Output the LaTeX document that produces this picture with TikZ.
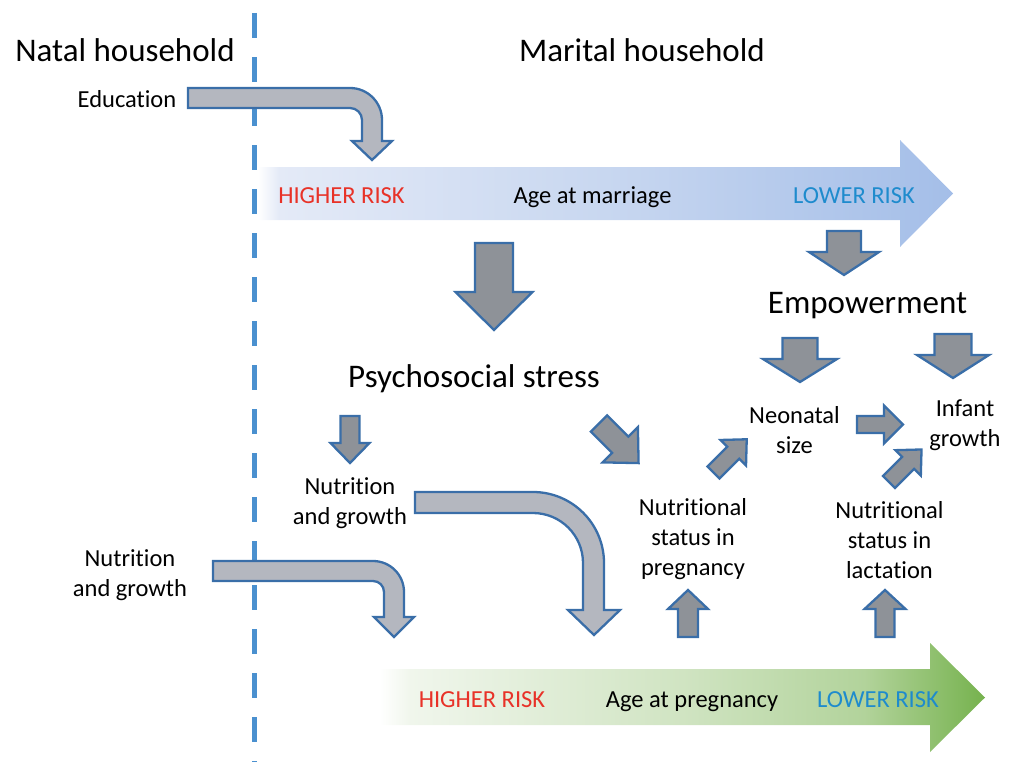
\documentclass[tikz,border=0pt]{standalone}
\usepackage{fontspec}
\setmainfont{Carlito}[Ligatures=NoCommon]
\definecolor{dashblue}{RGB}{74,144,207}
\definecolor{darkfill}{RGB}{142,146,152}
\definecolor{lightfill}{RGB}{180,183,191}
\definecolor{edgeblue}{RGB}{58,110,168}
\definecolor{riskred}{RGB}{232,50,40}
\definecolor{riskblue}{RGB}{30,139,205}
\definecolor{bA}{RGB}{228,234,247}
\definecolor{bM}{RGB}{200,215,240}
\definecolor{bR}{RGB}{164,190,232}
\definecolor{gA}{RGB}{240,246,236}
\definecolor{gM}{RGB}{208,228,194}
\definecolor{gN}{RGB}{178,211,155}
\definecolor{gR}{RGB}{118,178,78}
\pgfdeclarehorizontalshading{blueshade}{100bp}{color(0bp)=(white); color(25bp)=(white); color(26.5bp)=(bA); color(50bp)=(bM); color(75bp)=(bR); color(100bp)=(bR)}
\pgfdeclarehorizontalshading{greenshade}{100bp}{color(0bp)=(white); color(25bp)=(white); color(27.5bp)=(gA); color(50bp)=(gM); color(65bp)=(gN); color(75bp)=(gR); color(100bp)=(gR)}
\newcommand{\blockarr}[8]{%
  \begin{scope}[shift={(#1,#2)},rotate=#3]
    \draw[#8] (0,-#5) -- ({#4-#7},-#5) -- ({#4-#7},-#6) -- (#4,0) -- ({#4-#7},#6) -- ({#4-#7},#5) -- (0,#5) -- cycle;
  \end{scope}}
\tikzset{
  bigtxt/.style={font=\fontsize{33bp}{40bp}\selectfont, inner sep=0pt, anchor=base},
  smalltxt/.style={font=\fontsize{24.5bp}{30bp}\selectfont, inner sep=0pt, anchor=base, align=center},
  darkarrow/.style={draw=edgeblue, line width=2.3bp, fill=darkfill, line join=miter},
  lightarrow/.style={draw=edgeblue, line width=2.3bp, fill=lightfill, line join=miter},
  dashline/.style={draw=dashblue, line width=5bp, dash pattern=on 25bp off 19bp}
}
\begin{document}
\begin{tikzpicture}[x=1bp,y=-1bp]
\useasboundingbox (0,0) rectangle (1013,762);
% dashed divider
\coordinate (dtop) at (254.5,13);
\coordinate (dbot) at (254.5,762);
\draw[dashline] (dtop) -- (dbot);

% headings
\node[bigtxt] (natal) at (125,62) {Natal household};
\node[bigtxt] (marital) at (642,62) {Marital household};
\node[smalltxt] (edu) at (127,107) {Education};

% age at marriage arrow
\path[shading=blueshade, shading angle=0] (258,167) -- (900,167) -- (900,140) -- (953,193.5) -- (900,247) -- (900,220) -- (258,220) -- cycle;
\node[smalltxt, text=riskred] (hr1) at (341.5,203) {HIGHER RISK};
\node[smalltxt] (am) at (592.5,203) {Age at marriage};
\node[smalltxt, text=riskblue] (lr1) at (854,203) {LOWER RISK};

% age at pregnancy arrow
\path[shading=greenshade, shading angle=0] (380,669) -- (930,669) -- (930,643) -- (985,697.5) -- (930,752) -- (930,725) -- (380,725) -- cycle;
\node[smalltxt, text=riskred] (hr2) at (482,707) {HIGHER RISK};
\node[smalltxt] (ap) at (692,707) {Age at pregnancy};
\node[smalltxt, text=riskblue] (lr2) at (878,707) {LOWER RISK};

% education bent arrow
\draw[lightarrow] (188,88) -- (350,88) arc[start angle=270, end angle=360, radius=32] -- (382,141) -- (392,141) -- (372,160) -- (352,141) -- (362,141) -- (362,120) arc[start angle=0, end angle=-90, radius=12] -- (188,108) -- cycle;

% lower-left nutrition bent arrow
\draw[lightarrow] (213,561) -- (373,561) arc[start angle=270, end angle=360, radius=31] -- (404,617) -- (414,617) -- (394,637) -- (374,617) -- (384,617) -- (384,592) arc[start angle=0, end angle=-90, radius=11] -- (213,581) -- cycle;

% big curved arrow from nutrition and growth
\draw[lightarrow] (415,492) -- (533,492) arc[start angle=270, end angle=360, radius=71] -- (604,610) -- (620,610) -- (594,635) -- (568,610) -- (583,610) -- (583,563) arc[start angle=0, end angle=-90, radius=50] -- (415,513) -- cycle;

% straight block arrows
\blockarr{494}{243}{-90}{87}{19}{38.5}{38}{darkarrow}
\blockarr{844}{231}{-90}{44}{17}{35}{23}{darkarrow}
\blockarr{800}{338}{-90}{44}{17.5}{37}{23}{darkarrow}
\blockarr{953}{334}{-90}{44}{18.5}{36}{23}{darkarrow}
\blockarr{350}{416}{-90}{47}{9.5}{19.5}{20}{darkarrow}
\blockarr{599}{423.5}{-45}{56}{11.5}{25}{26}{darkarrow}
\blockarr{713.5}{472.5}{45}{47}{8.5}{18}{19}{darkarrow}
\blockarr{889}{482}{45}{46}{8.5}{18}{19}{darkarrow}
\blockarr{857}{424.5}{0}{46}{8.5}{19}{19}{darkarrow}
\blockarr{688}{637}{90}{47}{10}{20}{19}{darkarrow}
\blockarr{885}{637}{90}{47}{9.5}{20.5}{19}{darkarrow}

% labels (multi-line nodes: base = last line)
\node[bigtxt] (emp) at (867.5,313) {Empowerment};
\node[bigtxt] (psy) at (474,387) {Psychosocial stress};
\node[smalltxt] (ng1) at (350,524) {Nutrition\\and growth};
\node[smalltxt] (ng0) at (130,596) {Nutrition\\and growth};
\node[smalltxt] (nsp) at (693,575) {Nutritional\\status in\\pregnancy};
\node[smalltxt] (nsl) at (889.5,578) {Nutritional\\status in\\lactation};
\node[smalltxt] (neo) at (794.5,453) {Neonatal\\size};
\node[smalltxt] (inf) at (965,446) {Infant\\growth};
\end{tikzpicture}
\end{document}
